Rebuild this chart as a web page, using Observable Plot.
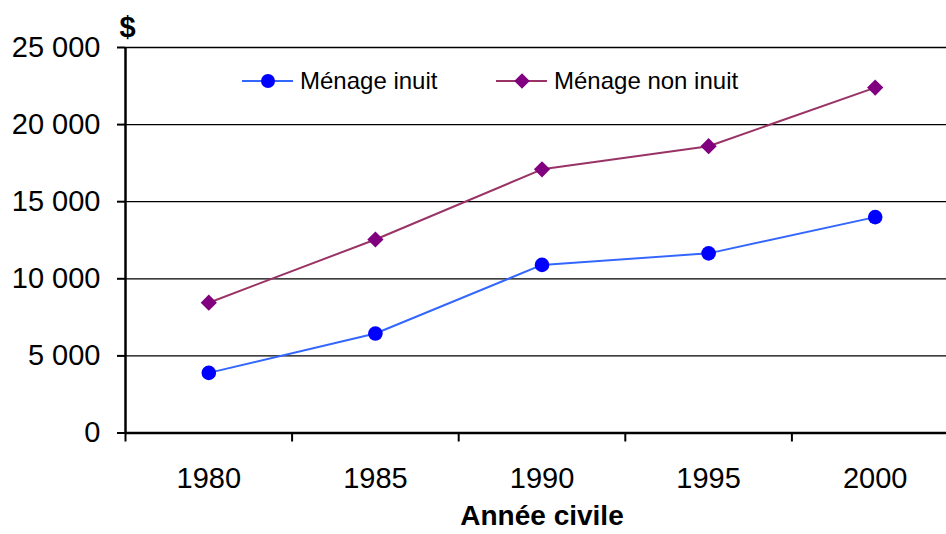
<!DOCTYPE html>
<html>
<head>
<meta charset="utf-8">
<script src="https://cdn.jsdelivr.net/npm/d3@7"></script>
<script src="https://cdn.jsdelivr.net/npm/@observablehq/plot@0.6"></script>
<style>
  html, body { margin: 0; padding: 0; background: #fff; }
  svg { display: block; }
</style>
</head>
<body>
<div id="chart"></div>
<script>
const years = [1980, 1985, 1990, 1995, 2000];
const inuit = [3900, 6450, 10900, 11650, 14000];
const nonInuit = [8450, 12550, 17100, 18600, 22400];
const seriesNames = ["Ménage inuit", "Ménage non inuit"];
const yTicks = [0, 5000, 10000, 15000, 20000, 25000];
const xTitle = "Année civile";
const yTitle = "$";

const lineColors = ["#3366FF", "#993366"];
const markColors = ["#0000FF", "#800080"];
const symbols = ["circle", "diamond2"];

const seriesValues = [inuit, nonInuit];
const data = seriesNames.flatMap((name, s) =>
  years.map((yr, i) => ({ series: name, s, year: yr, value: seriesValues[s][i] })));

const half = (years[1] - years[0]) / 2;
const boundaries = years.map(y => y - half);

const font = "'Liberation Sans', Arial, sans-serif";
const fmt = d => d3.format(",")(d).replace(/,/g, " ");

const legendMark = () => {
  const g = d3.create("svg:g");
  seriesNames.forEach((name, s) => {
    const cx = 268 + s * 254, cy = 81;
    g.append("line").attr("x1", cx - 26).attr("x2", cx + 25).attr("y1", cy).attr("y2", cy)
      .attr("stroke", lineColors[s]).attr("stroke-width", 2);
    g.append("path")
      .attr("d", d3.symbol(s === 0 ? d3.symbolCircle : d3.symbolDiamond2, Math.PI * 49)())
      .attr("transform", `translate(${cx},${cy})`)
      .attr("fill", markColors[s]);
    g.append("text").attr("x", cx + 32).attr("y", cy + 8)
      .attr("text-anchor", "start")
      .attr("font-family", font).attr("font-size", 24).attr("fill", "#000")
      .text(name);
  });
  return g.node();
};

const chart = Plot.plot({
  width: 946,
  height: 534,
  marginLeft: 125,
  marginRight: 0,
  marginTop: 47,
  marginBottom: 101.5,
  style: { fontFamily: font, background: "#fff", color: "#000" },
  x: { type: "linear", domain: [years[0] - half, years[years.length - 1] + half], range: [125, 125 + 5 * 166.6] },
  y: { domain: [0, 25000], range: [432.5, 47] },
  marks: [
    Plot.ruleY(yTicks.filter(d => d > 0), { stroke: "#000", strokeWidth: 1.3 }),
    Plot.axisY({ ticks: yTicks, tickSize: 8, tickPadding: 17, tickFormat: fmt, fontSize: 29, label: null, strokeWidth: 2 }),
    Plot.axisX({ ticks: boundaries, tickSize: 9, tickFormat: () => "", label: null, strokeWidth: 2 }),
    Plot.axisX({ ticks: years, tickSize: 0, tickPadding: 34, tickFormat: d => String(d), fontSize: 29, label: null }),
    Plot.ruleY([0], { stroke: "#000", strokeWidth: 2.5 }),
    Plot.ruleX([boundaries[0]], { stroke: "#000", strokeWidth: 2.5 }),
    Plot.line(data, { x: "year", y: "value", z: "series", stroke: d => lineColors[d.s], strokeWidth: 2 }),
    Plot.dot(data, { x: "year", y: "value", symbol: d => symbols[d.s], fill: d => markColors[d.s], stroke: "none", r: 7.3 }),
    legendMark,
    Plot.text([yTitle], { frameAnchor: "top-left", dx: 2, dy: -31, fontSize: 29, fontWeight: "bold", textAnchor: "middle", fill: "#000" }),
    Plot.text([xTitle], { frameAnchor: "bottom", dx: 6, dy: 92, fontSize: 28, fontWeight: "bold", textAnchor: "middle", fill: "#000" })
  ],
  color: { type: "identity" },
  symbol: { type: "identity" }
});
document.getElementById("chart").appendChild(chart);
</script>
</body>
</html>
